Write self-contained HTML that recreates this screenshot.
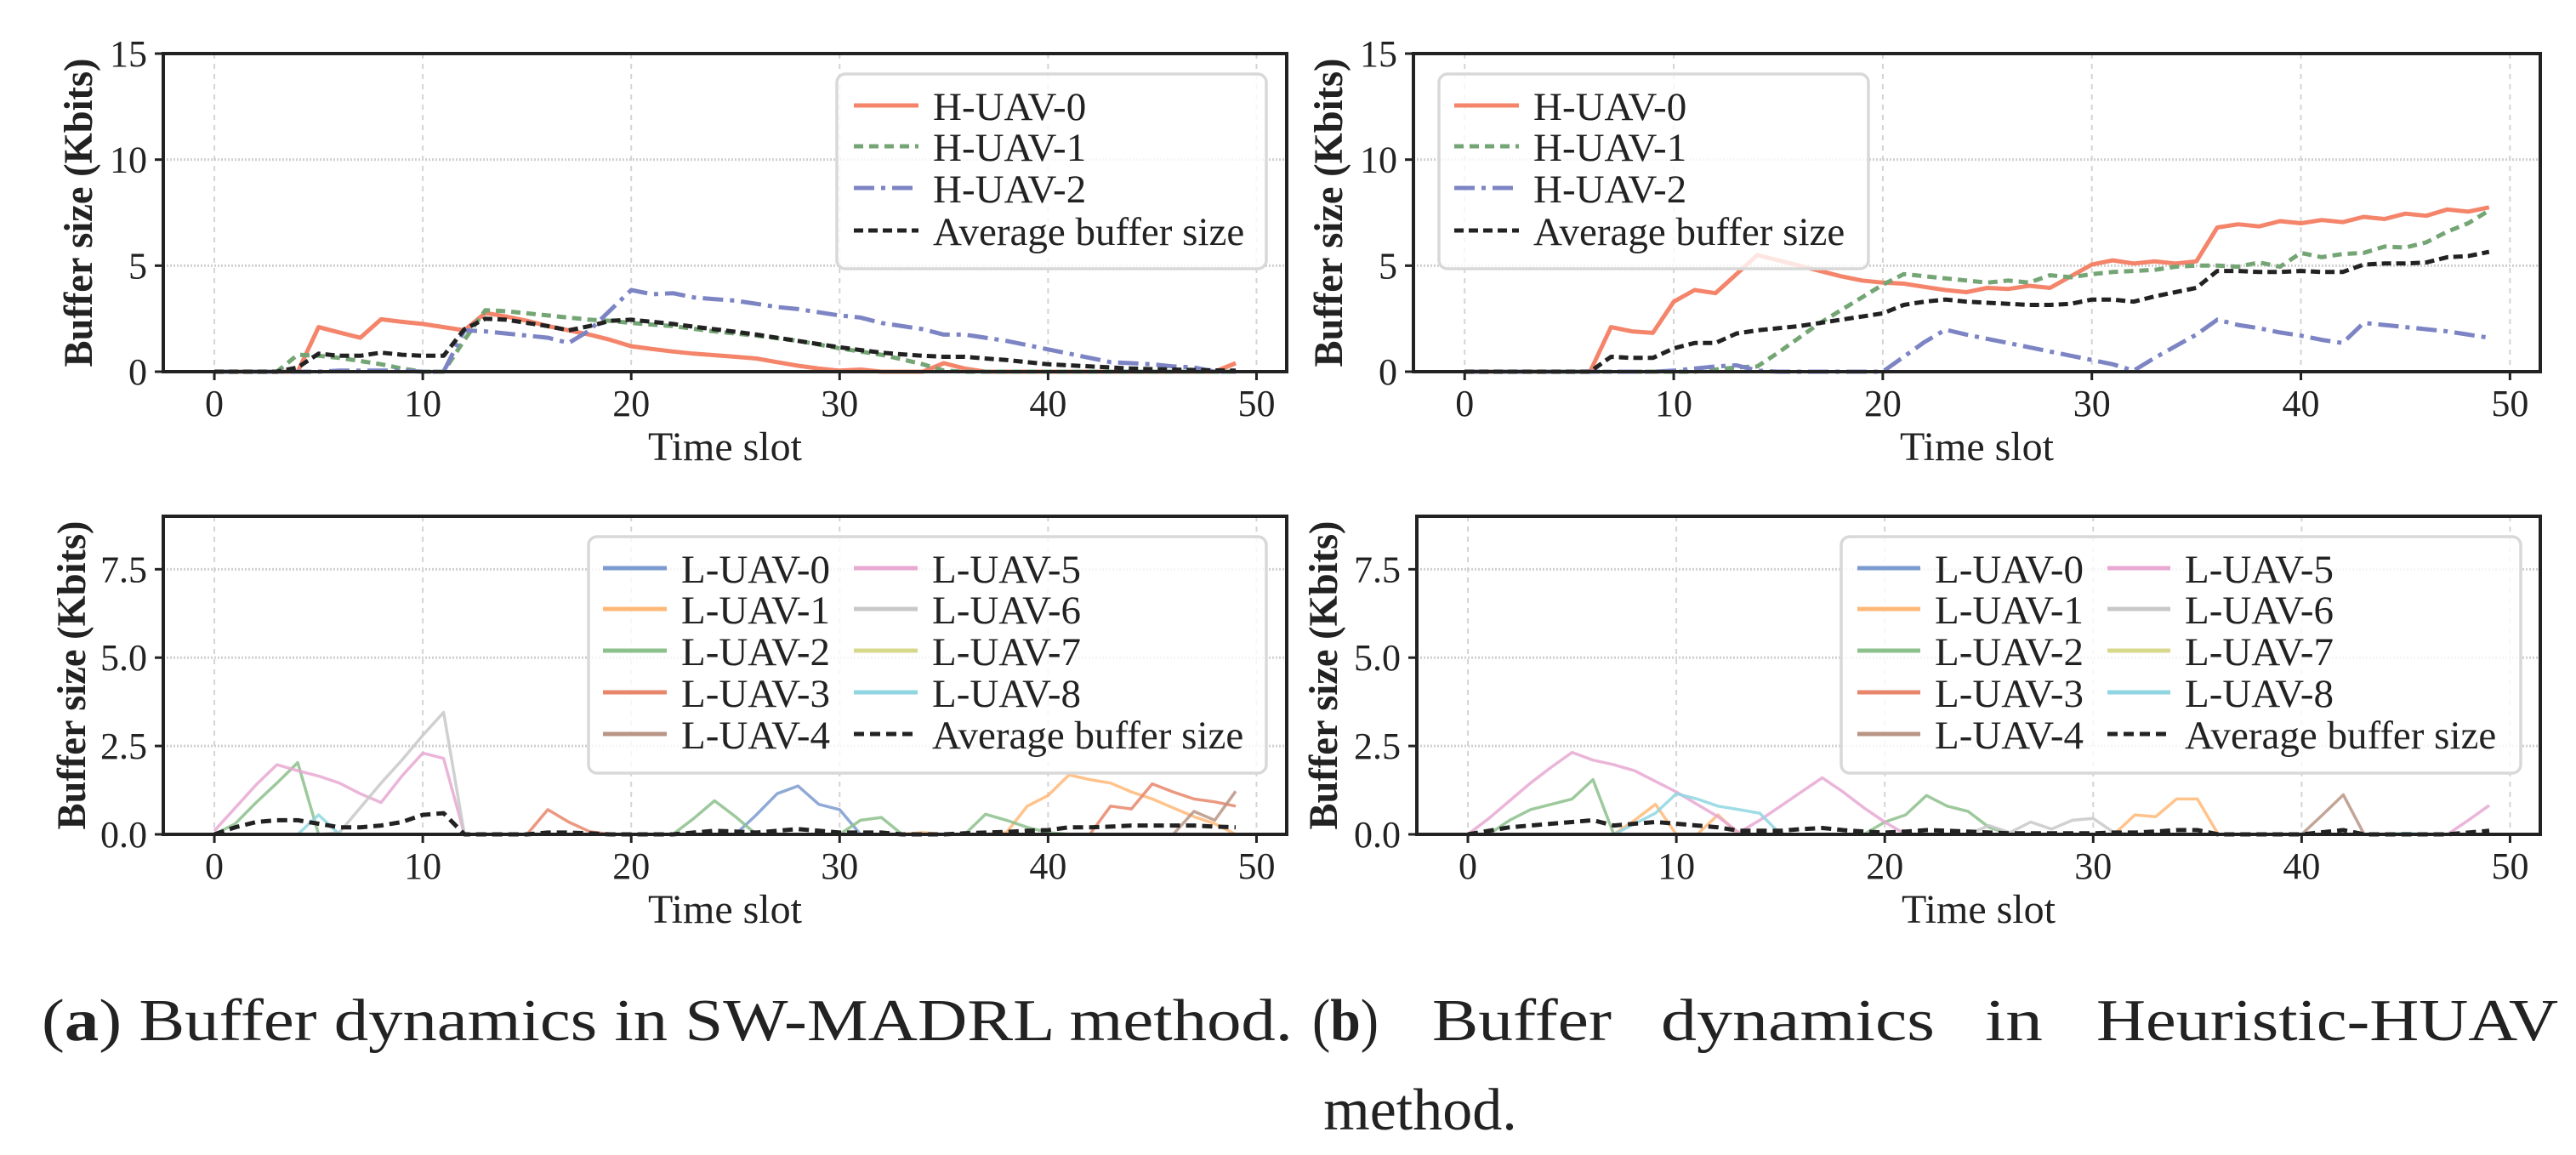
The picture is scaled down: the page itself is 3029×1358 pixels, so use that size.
<!DOCTYPE html>
<html><head><meta charset="utf-8">
<style>
html,body{margin:0;padding:0;background:#fff;}
svg{display:block;font-family:"Liberation Serif","DejaVu Serif",serif;}
</style></head>
<body>
<svg id="fig" width="3029" height="1358" viewBox="0 0 3029 1358" xmlns="http://www.w3.org/2000/svg">
<rect width="3029" height="1358" fill="#fff"/>
<text x="49" y="1223" font-size="70" fill="#222" textLength="1471" lengthAdjust="spacingAndGlyphs">(<tspan font-weight="bold">a</tspan>) Buffer dynamics in SW-MADRL method.</text>
<g font-size="70" fill="#222">
<text x="1543" y="1223" textLength="78" lengthAdjust="spacingAndGlyphs">(<tspan font-weight="bold">b</tspan>)</text>
<text x="1684" y="1223" textLength="211" lengthAdjust="spacingAndGlyphs">Buffer</text>
<text x="1953" y="1223" textLength="322" lengthAdjust="spacingAndGlyphs">dynamics</text>
<text x="2334" y="1223" textLength="68" lengthAdjust="spacingAndGlyphs">in</text>
<text x="2465" y="1223" textLength="543" lengthAdjust="spacingAndGlyphs">Heuristic-HUAV</text>
</g>
<text x="1670" y="1328" font-size="70" fill="#222" text-anchor="middle">method.</text>
</svg>
<script>
// ---------- data ----------
const timeSlots = Array.from({length:50},(_, i)=>i);
const xTicks = [0,10,20,30,40,50];
const xTickLabels = ["0","10","20","30","40","50"];
const yTicksTop = [0,5,10,15];
const yTickLabelsTop = ["0","5","10","15"];
const yTicksBottom = [0,2.5,5,7.5];
const yTickLabelsBottom = ["0.0","2.5","5.0","7.5"];

// (a) SW-MADRL, H-UAVs
const aH0 = [0,0,0,0,0,2.1,1.85,1.6,2.47,2.35,2.25,2.1,1.95,2.77,2.6,2.4,2.15,1.95,1.75,1.5,1.2,1.07,0.95,0.85,0.78,0.7,0.62,0.45,0.28,0.15,0.05,0.1,0,0,0,0.4,0.15,0,0,0,0,0,0,0,0,0,0,0,0,0.4];
const aH1 = [0,0,0,0,0.8,0.75,0.65,0.5,0.35,0.15,0,0,1.5,2.9,2.85,2.75,2.65,2.55,2.45,2.4,2.3,2.22,2.15,2.02,1.9,1.8,1.7,1.58,1.45,1.28,1.1,0.95,0.8,0.58,0.35,0.05,0,0,0,0,0,0,0,0,0,0,0,0,0,0];
const aH2 = [0,0,0,0,0,0,0.05,0.05,0.05,0.05,0,0,1.95,1.9,1.8,1.7,1.6,1.35,1.95,2.9,3.85,3.65,3.7,3.5,3.42,3.35,3.2,3.05,2.95,2.8,2.65,2.55,2.3,2.15,2.0,1.75,1.75,1.6,1.45,1.25,1.05,0.85,0.65,0.45,0.4,0.35,0.25,0.2,0,0];
const aHAvg = [0,0,0,0,0.2,0.85,0.75,0.75,0.9,0.8,0.75,0.75,2.0,2.5,2.45,2.3,2.15,1.95,2.15,2.4,2.45,2.35,2.25,2.12,2.0,1.88,1.75,1.6,1.45,1.3,1.15,1.02,0.9,0.82,0.75,0.7,0.7,0.62,0.55,0.45,0.35,0.3,0.25,0.2,0.15,0.12,0.1,0.08,0.06,0.05];

// (b) Heuristic-HUAV, H-UAVs
const bH0 = [0,0,0,0,0,0,0,2.1,1.9,1.83,3.3,3.85,3.7,4.6,5.5,5.25,5.0,4.75,4.5,4.3,4.2,4.15,4.0,3.85,3.75,3.95,3.9,4.05,3.95,4.5,5.05,5.25,5.1,5.2,5.1,5.2,6.8,6.95,6.85,7.1,7.0,7.15,7.05,7.3,7.2,7.45,7.35,7.65,7.55,7.75];
const bH1 = [0,0,0,0,0,0,0,0,0,0,0,0,0.1,0.2,0.25,0.9,1.6,2.3,2.9,3.5,4.1,4.6,4.5,4.4,4.3,4.2,4.3,4.2,4.55,4.45,4.6,4.7,4.75,4.8,4.95,5.0,5.0,4.95,5.15,4.95,5.6,5.4,5.55,5.6,5.9,5.85,6.1,6.6,7.0,7.6];
const bH2 = [0,0,0,0,0,0,0,0,0,0,0.05,0.15,0.25,0.3,0.05,0,0,0,0,0,0,0.7,1.4,1.98,1.75,1.55,1.35,1.15,0.95,0.75,0.55,0.35,0.05,0.65,1.2,1.75,2.45,2.2,2.05,1.85,1.7,1.5,1.35,2.3,2.2,2.1,2.0,1.9,1.75,1.6];
const bHAvg = [0,0,0,0,0,0,0,0.7,0.65,0.65,1.1,1.35,1.35,1.8,1.95,2.05,2.15,2.3,2.45,2.6,2.75,3.15,3.3,3.4,3.3,3.25,3.2,3.15,3.15,3.2,3.4,3.4,3.3,3.55,3.75,3.95,4.75,4.75,4.7,4.7,4.75,4.7,4.7,5.05,5.1,5.1,5.15,5.4,5.45,5.65];

// (a) SW-MADRL, L-UAVs
const aL0 = [0,0,0,0,0,0,0,0,0,0,0,0,0,0,0,0,0,0,0,0,0,0,0,0,0,0,0.55,1.15,1.37,0.85,0.7,0,0,0,0,0,0,0,0,0,0,0,0,0,0,0,0,0,0,0];
const aL1 = [0,0,0,0,0,0,0,0,0,0,0,0,0,0,0,0,0,0,0,0,0,0,0,0,0,0,0,0,0,0,0,0,0,0,0.05,0,0,0,0.05,0.8,1.1,1.68,1.55,1.45,1.2,1.0,0.75,0.5,0.3,0];
const aL2 = [0,0.3,0.9,1.45,2.03,0,0,0,0,0,0,0,0,0,0,0,0,0,0,0,0,0,0,0.45,0.95,0.5,0,0,0,0,0,0.4,0.48,0,0,0,0,0.57,0.4,0.2,0.05,0,0,0,0,0,0,0,0,0];
const aL3 = [0,0,0,0,0,0,0,0,0,0,0,0,0,0,0,0,0.7,0.35,0.08,0,0,0,0,0,0,0,0,0,0,0,0,0,0,0,0,0,0,0,0,0,0,0,0,0.8,0.72,1.43,1.2,1.0,0.92,0.8];
const aL4 = [0,0,0,0,0,0,0,0,0,0,0,0,0,0,0,0,0,0,0,0,0,0,0,0,0,0,0,0,0,0,0,0,0,0,0,0,0,0,0,0,0,0,0,0,0,0,0,0.65,0.4,1.22];
const aL5 = [0.1,0.75,1.4,1.97,1.8,1.65,1.45,1.15,0.9,1.65,2.3,2.15,0,0,0,0,0,0,0,0,0,0,0,0,0,0,0,0,0,0,0,0,0,0,0,0,0,0,0,0,0,0,0,0,0,0,0,0,0,0];
const aL6 = [0,0,0,0,0,0,0.05,0.75,1.45,2.1,2.8,3.45,0,0,0,0,0,0,0,0,0,0,0,0,0,0,0,0,0,0,0,0,0,0,0,0,0,0,0,0,0,0,0,0,0,0,0,0,0,0];
const aL7 = [0,0,0,0,0,0,0,0,0,0,0,0,0,0,0,0,0,0,0,0,0,0,0,0,0,0,0,0,0,0,0,0,0,0,0,0,0,0,0,0,0,0,0,0,0,0,0,0,0,0];
const aL8 = [0,0,0,0,0,0.55,0,0,0,0,0,0,0,0,0,0,0,0,0,0,0,0,0,0,0,0,0,0,0,0,0,0,0,0,0,0,0,0,0,0,0,0,0,0,0,0,0,0,0,0];
const aLAvg = [0,0.2,0.35,0.4,0.4,0.3,0.2,0.2,0.25,0.35,0.55,0.6,0,0,0,0,0.05,0.05,0.03,0,0,0,0,0.05,0.1,0.08,0.05,0.1,0.15,0.1,0.05,0.05,0.05,0,0,0,0.03,0.05,0.07,0.1,0.12,0.2,0.2,0.22,0.25,0.25,0.25,0.25,0.22,0.2];

// (b) Heuristic-HUAV, L-UAVs
const bL0 = [0,0,0,0,0,0,0,0,0,0,0,0,0,0,0,0,0,0,0,0,0,0,0,0,0,0,0,0,0,0,0,0,0,0,0,0,0,0,0,0,0,0,0,0,0,0,0,0,0,0];
const bL1 = [0,0,0,0,0,0,0,0,0.4,0.85,0,0,0.55,0,0,0,0,0,0,0,0,0,0,0,0,0,0,0,0,0,0,0,0.55,0.5,1.0,1.0,0,0,0,0,0,0,0,0,0,0,0,0,0,0];
const bL2 = [0,0,0.4,0.7,0.85,1.0,1.55,0,0,0,0,0,0,0,0,0,0,0,0,0,0.35,0.55,1.1,0.8,0.65,0.2,0,0,0,0,0,0,0,0,0,0,0,0,0,0,0,0,0,0,0,0,0,0,0,0];
const bL3 = [0,0,0,0,0,0,0,0,0,0,0,0,0,0,0,0,0,0,0,0,0,0,0,0,0,0,0,0,0,0,0,0,0,0,0,0,0,0,0,0,0,0,0,0,0,0,0,0,0,0];
const bL4 = [0,0,0,0,0,0,0,0,0,0,0,0,0,0,0,0,0,0,0,0,0,0,0,0,0,0,0,0,0,0,0,0,0,0,0,0,0,0,0,0,0,0.55,1.12,0,0,0,0,0,0,0];
const bL5 = [0,0.45,0.95,1.45,1.9,2.32,2.1,1.97,1.8,1.5,1.2,0.85,0.5,0.05,0.4,0.8,1.2,1.6,1.2,0.75,0.35,0,0,0,0,0,0,0,0,0,0,0,0,0,0,0,0,0,0,0,0,0,0,0,0,0,0,0,0.4,0.82];
const bL6 = [0,0,0,0,0,0,0,0,0,0,0,0,0,0,0,0,0,0,0,0,0,0,0,0,0,0.25,0.05,0.35,0.15,0.4,0.45,0.05,0,0,0,0,0,0,0,0,0,0,0,0,0,0,0,0,0,0];
const bL7 = [0,0,0,0,0,0,0,0,0,0,0,0,0,0,0,0,0,0,0,0,0,0,0,0,0,0,0,0,0,0,0,0,0,0,0,0,0,0,0,0,0,0,0,0,0,0,0,0,0,0];
const bL8 = [0,0,0,0,0,0,0,0,0.3,0.6,1.15,1.0,0.8,0.7,0.6,0,0,0,0,0,0,0,0,0,0,0,0,0,0,0,0,0,0,0,0,0,0,0,0,0,0,0,0,0,0,0.03,0,0,0,0];
const bLAvg = [0,0.1,0.2,0.25,0.3,0.35,0.4,0.25,0.3,0.35,0.3,0.25,0.2,0.1,0.1,0.1,0.15,0.18,0.12,0.08,0.05,0.08,0.12,0.1,0.08,0.05,0.03,0.03,0.03,0.03,0.03,0.05,0.05,0.08,0.12,0.12,0,0,0,0,0,0.06,0.12,0,0,0,0,0,0.05,0.1];

const hNames = ["H-UAV-0","H-UAV-1","H-UAV-2","Average buffer size"];
const lNames = ["L-UAV-0","L-UAV-1","L-UAV-2","L-UAV-3","L-UAV-4","L-UAV-5","L-UAV-6","L-UAV-7","L-UAV-8","Average buffer size"];

// ---------- drawing ----------
const NS = "http://www.w3.org/2000/svg";
const svg = document.getElementById("fig");
function mk(tag, attrs, parent){
  const e = document.createElementNS(NS, tag);
  for (const k in attrs) e.setAttribute(k, attrs[k]);
  (parent||svg).appendChild(e);
  return e;
}
const hStyles = [
  {c:"#f4846a", w:5, d:""},
  {c:"#74a574", w:5, d:"11 7"},
  {c:"#7c84c4", w:5, d:"24 8 5 8"},
  {c:"#222", w:5, d:"11 6"}
];
const lColors = ["#7b9bd0","#ffb877","#8cc08c","#e8866b","#b99585","#e8a8d2","#c8c8c8","#d8d88c","#8fd6e2"];
const lStyles = lColors.map(c=>({c:c, w:3.5, d:""})).concat([{c:"#222", w:5, d:"12 7"}]);

function panel(p){
  const g = mk("g", {});
  
  
  const xs = v => p.L + (v - (-2.45)) / 53.9 * (p.R - p.L);
  const ys = v => p.B - v / p.ymax * (p.B - p.T);
  xTicks.forEach((t,i)=>{
    const ln = mk("line",{x1:xs(t),x2:xs(t),y1:p.T,y2:p.B,stroke:"#d4d4d4","stroke-width":2,"stroke-dasharray":"6 6"},g);
    
    
  });
  p.yt.forEach((t,i)=>{
    const ln = mk("line",{x1:p.L,x2:p.R,y1:ys(t),y2:ys(t),stroke:"#d0d0d0","stroke-width":3,"stroke-dasharray":"2 2"},g);
    
    
  });
  p.series.forEach((s,k)=>{
    const st = p.styles[k];
    const pts = s.map((v,i)=>xs(timeSlots[i]).toFixed(1)+","+ys(v).toFixed(1)).join(" ");
    const pl = mk("polyline",{points:pts,fill:"none",stroke:st.c,"stroke-width":st.w,"stroke-dasharray":st.d,"stroke-linejoin":"round","stroke-opacity":st.w<4?0.85:1},g);
    
    
  });
  const fr = mk("rect",{x:p.L,y:p.T,width:p.R-p.L,height:p.B-p.T,fill:"none",stroke:"#222","stroke-width":4},g);
  
  
  xTicks.forEach((t,i)=>{
    const tk = mk("line",{x1:xs(t),x2:xs(t),y1:p.B,y2:p.B+10,stroke:"#222","stroke-width":3},g);
    
    
    const tl = mk("text",{x:xs(t),y:p.B+52,"font-size":44,"text-anchor":"middle",fill:"#222"},g);
    tl.textContent = xTickLabels[i];
    
    
  });
  p.yt.forEach((t,i)=>{
    const tk = mk("line",{x1:p.L-10,x2:p.L,y1:ys(t),y2:ys(t),stroke:"#222","stroke-width":3},g);
    
    
    const tl = mk("text",{x:p.L-19,y:ys(t)+15,"font-size":44,"text-anchor":"end",fill:"#222"},g);
    tl.textContent = p.ytl[i];
    
    
  });
  const xl = mk("text",{x:(p.L+p.R)/2,y:p.B+104,"font-size":48,"text-anchor":"middle",fill:"#222"},g);
  xl.textContent = "Time slot";
  
  
  const cy = (p.T+p.B)/2;
  const yl = mk("text",{x:p.yl,y:cy,"font-size":48,"font-weight":"bold","text-anchor":"middle",fill:"#222",transform:"rotate(-90 "+p.yl+" "+cy+")",textLength:363,lengthAdjust:"spacingAndGlyphs",dy:16},g);
  yl.textContent = "Buffer size (Kbits)";
  
  
  const lg = mk("g",{},g);
  
  
  const bx = mk("rect",{x:p.lg.x,y:p.lg.y,width:p.lg.w,height:p.lg.h,rx:10,fill:"#fff","fill-opacity":0.8,stroke:"#d8d8d8","stroke-width":3.5},lg);
  
  
  p.names.forEach((n,k)=>{
    const col = p.lg.cols>1 ? (k < p.lg.perCol ? 0 : 1) : 0;
    const row = p.lg.cols>1 ? (k < p.lg.perCol ? k : k - p.lg.perCol) : k;
    const lx = p.lg.lineX[col], ly = p.lg.rowY[row];
    const st = p.styles[k];
    const e = mk("g",{},lg);
    
    
    mk("line",{x1:lx,x2:lx+p.lg.lineW,y1:ly,y2:ly,stroke:st.c,"stroke-width":5,"stroke-dasharray":st.d},e);
    const tx = mk("text",{x:lx+p.lg.lineW+17,y:ly+17,"font-size":47,fill:"#222"},e);
    tx.textContent = n;
  });
}

panel({name:"plot-a-h-uav", L:192,R:1513,T:63,B:437,ymax:15,yt:yTicksTop,ytl:yTickLabelsTop,yl:92,
  series:[aH0,aH1,aH2,aHAvg], styles:hStyles, names:hNames,
  lg:{x:984,y:87,w:505,h:229,cols:1,perCol:4,lineX:[1004],lineW:76,rowY:[124,172,221,271]}});
panel({name:"plot-b-h-uav", L:1662,R:2987,T:63,B:437,ymax:15,yt:yTicksTop,ytl:yTickLabelsTop,yl:1562,
  series:[bH0,bH1,bH2,bHAvg], styles:hStyles, names:hNames,
  lg:{x:1692,y:87,w:505,h:229,cols:1,perCol:4,lineX:[1710],lineW:76,rowY:[124,172,221,271]}});
panel({name:"plot-a-l-uav", L:192,R:1513,T:607,B:981,ymax:9,yt:yTicksBottom,ytl:yTickLabelsBottom,yl:84,
  series:[aL0,aL1,aL2,aL3,aL4,aL5,aL6,aL7,aL8,aLAvg], styles:lStyles, names:lNames,
  lg:{x:692,y:631,w:797,h:278,cols:2,perCol:5,lineX:[709,1004],lineW:75,rowY:[668,716,765,814,863]}});
panel({name:"plot-b-l-uav", L:1666,R:2987,T:607,B:981,ymax:9,yt:yTicksBottom,ytl:yTickLabelsBottom,yl:1556,
  series:[bL0,bL1,bL2,bL3,bL4,bL5,bL6,bL7,bL8,bLAvg], styles:lStyles, names:lNames,
  lg:{x:2165,y:631,w:799,h:278,cols:2,perCol:5,lineX:[2184,2478],lineW:74,rowY:[668,716,765,814,863]}});
</script>
</body></html>
